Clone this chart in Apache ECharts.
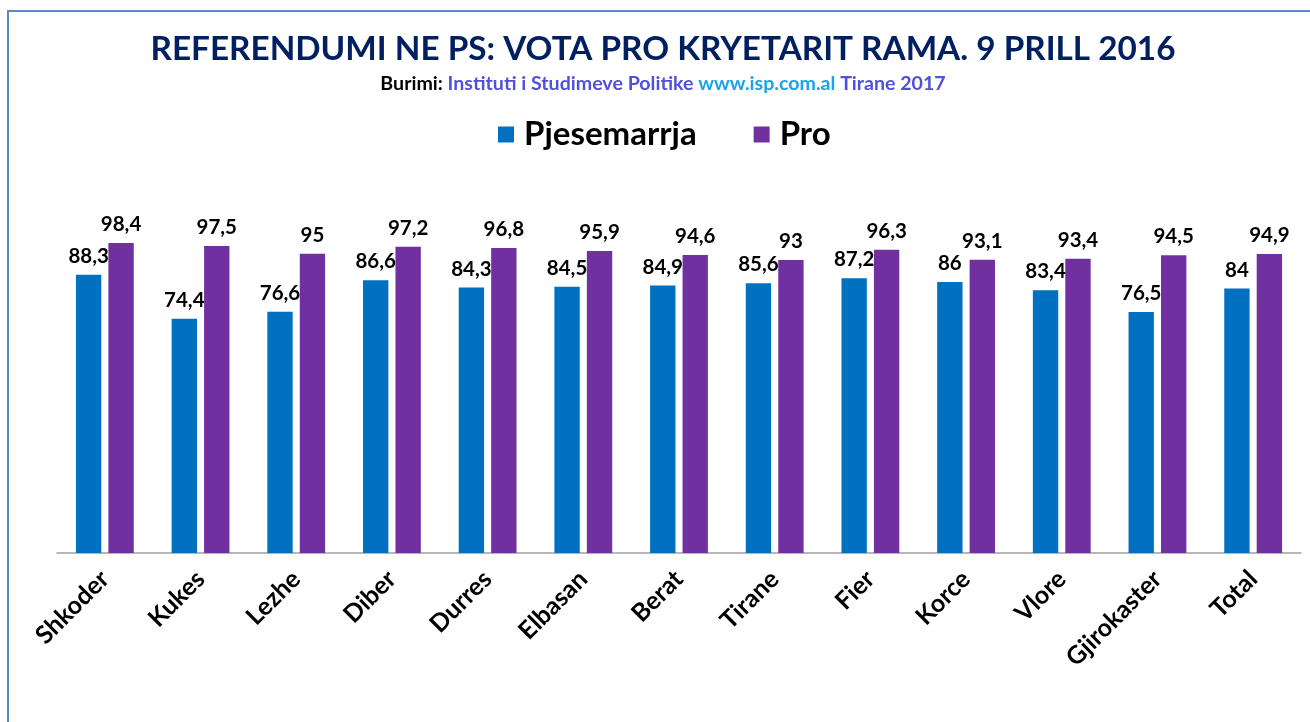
<!DOCTYPE html>
<html>
<head>
<meta charset="utf-8">
<script src="https://cdn.jsdelivr.net/npm/echarts@6/dist/echarts.min.js"></script>
<style>
html,body{margin:0;padding:0;background:#fff;}
#chart{width:1310px;height:722px;}
</style>
</head>
<body>
<div id="chart"></div>
<script>
const categories = ['Shkoder','Kukes','Lezhe','Diber','Durres','Elbasan','Berat','Tirane','Fier','Korce','Vlore','Gjirokaster','Total'];
const pjesemarrja = [88.3, 74.4, 76.6, 86.6, 84.3, 84.5, 84.9, 85.6, 87.2, 86, 83.4, 76.5, 84];
const pro = [98.4, 97.5, 95, 97.2, 96.8, 95.9, 94.6, 93, 96.3, 93.1, 93.4, 94.5, 94.9];
const seriesNames = ['Pjesemarrja', 'Pro'];

const FONT = "Lato, 'Open Sans', sans-serif";
const chart = echarts.init(document.getElementById('chart'));
const labelFmt = p => String(p.value).replace('.', ',');
const dataLabel = {
  show: true, position: 'top', distance: 8,
  formatter: labelFmt,
  fontFamily: FONT, fontWeight: 'bold', fontSize: 20.5, color: '#000'
};
chart.setOption({
  animation: false,
  backgroundColor: '#fff',
  graphic: [{
    type: 'rect', shape: {x: 8, y: 11, width: 1400, height: 800},
    style: {fill: 'none', stroke: '#5B87C5', lineWidth: 2}, silent: true
  }],
  title: {
    text: 'REFERENDUMI NE PS: VOTA PRO KRYETARIT RAMA. 9 PRILL 2016',
    left: 658, textAlign: 'center', top: 28, itemGap: 8,
    textStyle: {fontFamily: FONT, fontWeight: 'bold', fontSize: 33.3, color: '#002060'},
    subtext: '{a|Burimi: }{b|Instituti i Studimeve Politike }{c|www.isp.com.al }{b|Tirane 2017}',
    subtextStyle: {
      rich: {
        a: {fontFamily: FONT, fontWeight: 'bold', fontSize: 19.6, color: '#000'},
        b: {fontFamily: FONT, fontWeight: 'bold', fontSize: 19.6, color: '#5050D8'},
        c: {fontFamily: FONT, fontWeight: 'bold', fontSize: 19.6, color: '#1AA3E8'}
      }
    }
  },
  legend: {
    data: seriesNames, top: 113, left: 493, icon: 'rect',
    itemWidth: 16, itemHeight: 16, itemGap: 57,
    textStyle: {fontFamily: FONT, fontWeight: 'bold', fontSize: 33, color: '#000', padding: [0, 0, 0, 5]}
  },
  grid: {left: 57, right: 9, top: 238, bottom: 169, containLabel: false},
  xAxis: {
    type: 'category', data: categories,
    axisLine: {lineStyle: {color: '#a0a0a0', width: 1.5}},
    axisTick: {show: false},
    axisLabel: {rotate: 45, interval: 0, margin: 22,
      fontFamily: FONT, fontWeight: 'bold', fontSize: 25, color: '#000'}
  },
  yAxis: {type: 'value', min: 0, max: 100, show: false, splitLine: {show: false}},
  series: [
    {name: seriesNames[0], type: 'bar', data: pjesemarrja, barWidth: '26.5%', barGap: '28%',
     itemStyle: {color: '#0070C0'}, label: dataLabel},
    {name: seriesNames[1], type: 'bar', data: pro, barWidth: '26.5%',
     itemStyle: {color: '#7030A0'}, label: dataLabel}
  ]
});
</script>
</body>
</html>
